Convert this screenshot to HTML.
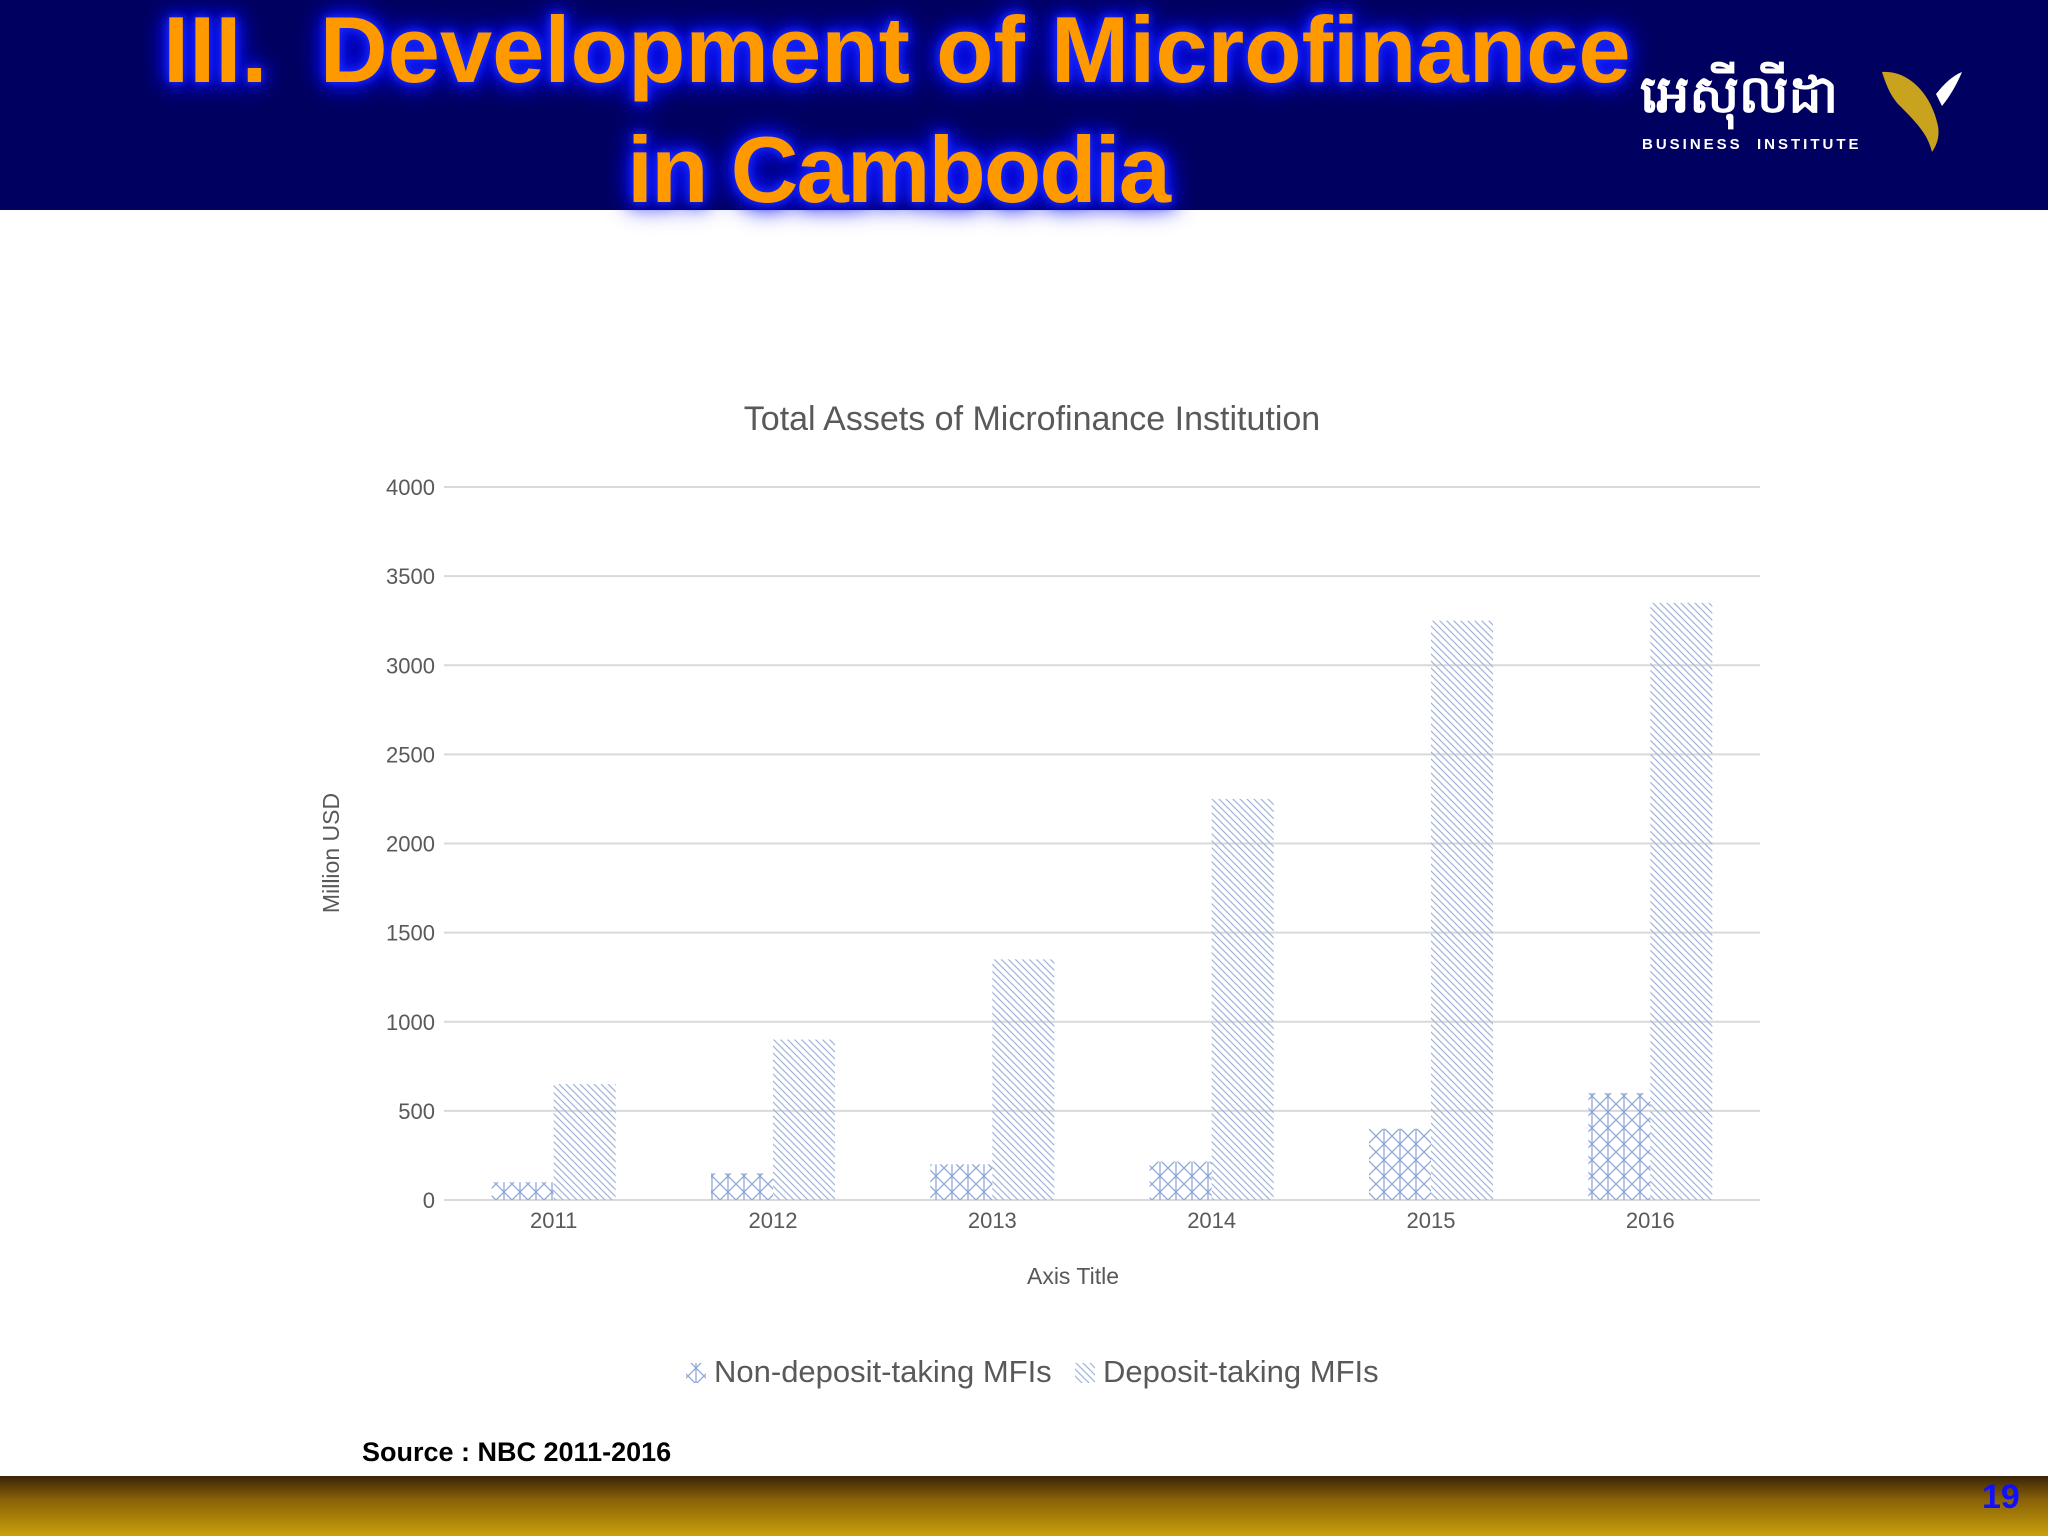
<!DOCTYPE html>
<html><head><meta charset="utf-8"><style>
html,body{margin:0;padding:0;width:2048px;height:1536px;overflow:hidden;background:#fff;font-family:"Liberation Sans",sans-serif;}
#header{position:absolute;left:0;top:0;width:2048px;height:210px;background:#000060;}
.ttl{position:absolute;color:#FF9900;font-weight:bold;font-size:94px;white-space:nowrap;text-shadow:0 0 8px #1a2cff,0 0 16px #1a2cff,0 0 24px #0000ff,0 0 30px #0000ff;font-family:"Liberation Sans",sans-serif;}
#band{position:absolute;left:0;top:1476px;width:2048px;height:60px;background:linear-gradient(#3a2406,#8a6208 40%,#c8a00a);}
</style></head><body>
<div id="header">
 <div class="ttl" style="left:163px;top:-4px;">III.&nbsp; Development of Microfinance</div>
 <div class="ttl" style="left:627px;top:116px;letter-spacing:-2px;">in Cambodia</div>
 <div style="position:absolute;left:1640px;top:66px;width:330px;height:90px;">
  <div style="position:absolute;left:0;top:-4px;color:#fff;font-weight:bold;font-size:52px;font-family:'Liberation Sans','DejaVu Sans',sans-serif;">អេស៊ីលីដា</div>
  <div style="position:absolute;left:2px;top:70px;color:#fff;font-weight:bold;font-size:15px;letter-spacing:3px;">BUSINESS&nbsp;&nbsp;INSTITUTE</div>
  <svg style="position:absolute;left:240px;top:0" width="90" height="90" viewBox="0 0 90 90">
   <path d="M2 6 C30 4 52 30 58 60 C60 72 56 80 52 86 C48 70 40 60 20 40 C10 30 6 18 2 6Z" fill="#c9a21e"/>
   <path d="M82 6 C76 20 70 30 62 40 L56 28 C64 18 72 10 82 6Z" fill="#fff"/>
  </svg>
 </div>
</div>

<svg id="chart" width="2048" height="1476" style="position:absolute;left:0;top:0">
 <defs>
  <pattern id="pCross" width="16" height="16" patternUnits="userSpaceOnUse">
   <path d="M0 0 L16 16 M16 0 L0 16 M8 0 V16" stroke="#8ea6d6" stroke-width="1.3" fill="none"/>
  </pattern>
  <pattern id="pDiag" width="7" height="7" patternUnits="userSpaceOnUse">
   <path d="M-1 -1 L8 8 M-1 6 L1 8 M6 -1 L8 1" stroke="#9fb3dc" stroke-width="1.2" fill="none"/>
  </pattern>
 </defs>
 <text x="1032" y="430" text-anchor="middle" font-size="34" fill="#595959" font-family="Liberation Sans, sans-serif">Total Assets of Microfinance Institution</text>
 <g id="grid"></g><g id="bars"></g><g id="xl"></g>
 <text transform="translate(339,853) rotate(-90)" text-anchor="middle" font-size="23" fill="#595959">Million USD</text>
 <text x="1073" y="1284" text-anchor="middle" font-size="23" fill="#595959">Axis Title</text>
 <g>
  <rect x="686" y="1363" width="20" height="20" fill="url(#pCross)"/>
  <text x="714" y="1382" font-size="31" fill="#595959">Non-deposit-taking MFIs</text>
  <rect x="1075" y="1363" width="20" height="20" fill="url(#pDiag)"/>
  <text x="1103" y="1382" font-size="31" fill="#595959">Deposit-taking MFIs</text>
 </g>
 <text x="362" y="1461" font-size="27" font-weight="bold" fill="#000">Source : NBC 2011-2016</text>
</svg>
<div id="band"></div>
<div style="position:absolute;left:1982px;top:1478px;color:#1010ff;font-weight:bold;font-size:34px;">19</div>

<script>
const categories=["2011","2012","2013","2014","2015","2016"];
const nonDeposit=[100,150,200,215,400,600];
const deposit=[650,900,1350,2250,3250,3350];
const yTicks=[0,500,1000,1500,2000,2500,3000,3500,4000];
const NS="http://www.w3.org/2000/svg";
const L=444,R=1760,T=487,B=1200,ymax=4000;
const y=v=>B-(v/ymax)*(B-T);
const cw=(R-L)/categories.length;
const xc=i=>L+cw*(i+0.5);
const bw=62;
function mk(t,a,p){const e=document.createElementNS(NS,t);for(const k in a)e.setAttribute(k,a[k]);p.appendChild(e);return e;}
const g=document.getElementById('grid');
yTicks.forEach(v=>{
 const ln=mk('line',{x1:L,x2:R,y1:y(v),y2:y(v),stroke:'#d9d9d9','stroke-width':2},g);
 
 
 const t=mk('text',{x:435,y:y(v)+8,'text-anchor':'end','font-size':22,fill:'#595959'},g);
 t.textContent=v;
 
 
});
const bg=document.getElementById('bars'),xl=document.getElementById('xl');
categories.forEach((c,i)=>{
 const a=mk('rect',{x:xc(i)-bw,y:y(nonDeposit[i]),width:bw,height:B-y(nonDeposit[i]),fill:'url(#pCross)'},bg);
 
 
 const b=mk('rect',{x:xc(i),y:y(deposit[i]),width:bw,height:B-y(deposit[i]),fill:'url(#pDiag)'},bg);
 
 
 const t=mk('text',{x:xc(i),y:1228,'text-anchor':'middle','font-size':22,fill:'#595959'},xl);
 t.textContent=c;
 
 
});
</script>
</body></html>
